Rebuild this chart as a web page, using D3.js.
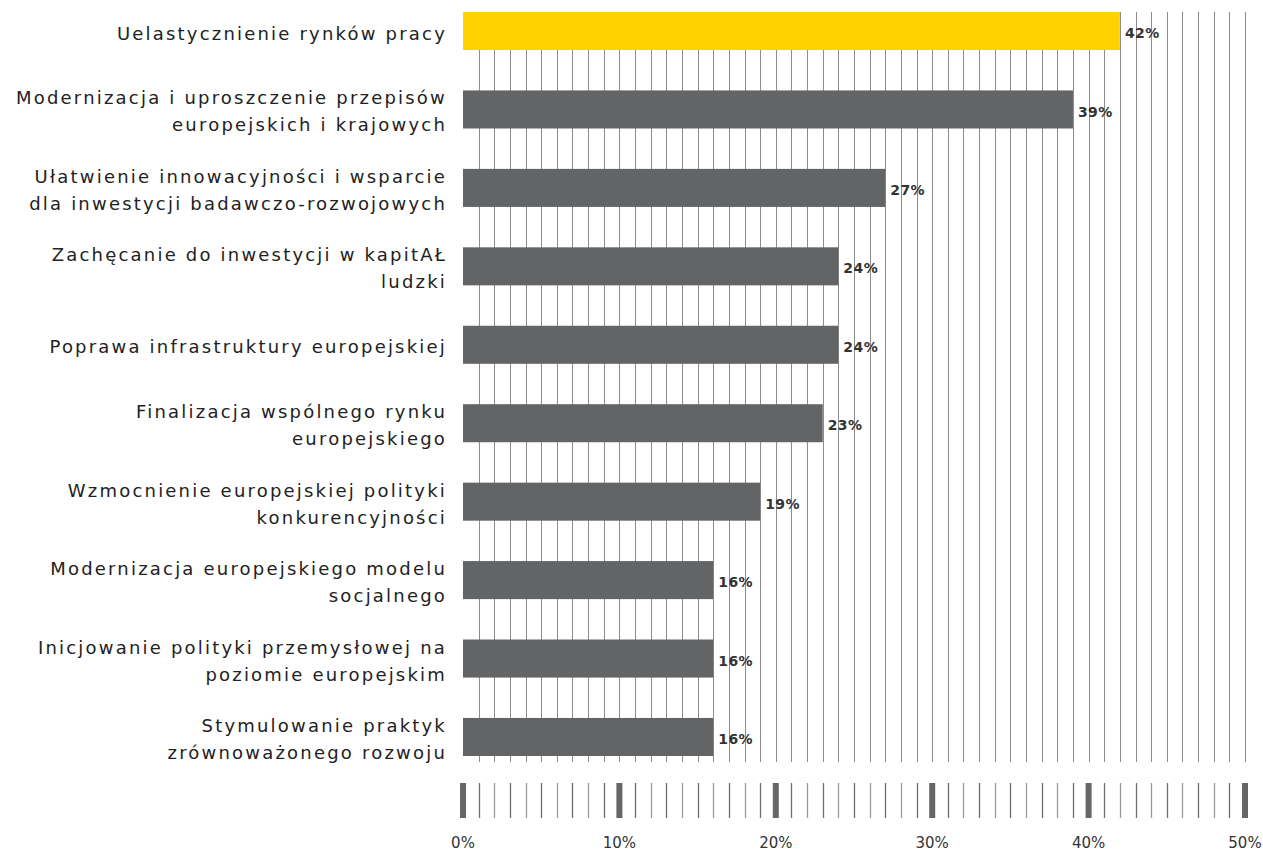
<!DOCTYPE html>
<html>
<head>
<meta charset="utf-8">
<script src="https://cdn.jsdelivr.net/npm/d3@7"></script>
<style>
  html, body { margin: 0; padding: 0; background: #fff; }
  svg { display: block; }
  .cat { font-family: "DejaVu Sans", sans-serif; font-size: 18px; fill: #222; letter-spacing: 2.2px; }
  .val { font-family: "DejaVu Sans", sans-serif; font-size: 14px; font-weight: bold; fill: #333; letter-spacing: 0.4px; }
  .tick-label { font-family: "DejaVu Sans", sans-serif; font-size: 15px; fill: #333; }
</style>
</head>
<body>
<svg id="chart" width="1263" height="852"></svg>
<script>
// Category labels (split into display lines) and their percentage shares
const categories = [
  ["Uelastycznienie rynków pracy"],
  ["Modernizacja i uproszczenie przepisów", "europejskich i krajowych"],
  ["Ułatwienie innowacyjności i wsparcie", "dla inwestycji badawczo-rozwojowych"],
  ["Zachęcanie do inwestycji w kapitAŁ", "ludzki"],
  ["Poprawa infrastruktury europejskiej"],
  ["Finalizacja wspólnego rynku", "europejskiego"],
  ["Wzmocnienie europejskiej polityki", "konkurencyjności"],
  ["Modernizacja europejskiego modelu", "socjalnego"],
  ["Inicjowanie polityki przemysłowej na", "poziomie europejskim"],
  ["Stymulowanie praktyk", "zrównoważonego rozwoju"]
];
const values = [42, 39, 27, 24, 24, 23, 19, 16, 16, 16];
const majorTicks = [0, 10, 20, 30, 40, 50];
const minorTicks = d3.range(1, 50).filter(v => v % 10 !== 0);
const gridLines = d3.range(1, 51);

const svg = d3.select("#chart");
const left = 463, right = 1245;
const plotTop = 12, plotBottom = 762;

const x = d3.scaleLinear().domain([0, 50]).range([left, right]);
const y = d3.scaleBand()
  .domain(d3.range(values.length))
  .range([12, 756])
  .paddingInner(0.515)
  .paddingOuter(0);

// vertical grid, one line per percent
svg.append("g")
  .selectAll("line")
  .data(gridLines)
  .join("line")
  .attr("x1", d => Math.round(x(d)) + 0.5)
  .attr("x2", d => Math.round(x(d)) + 0.5)
  .attr("y1", plotTop)
  .attr("y2", plotBottom)
  .attr("stroke", "#8c8c8c")
  .attr("stroke-width", 1);

// bars
svg.append("g")
  .selectAll("rect")
  .data(values)
  .join("rect")
  .attr("x", x(0))
  .attr("y", (d, i) => y(i))
  .attr("width", d => x(d) - x(0))
  .attr("height", y.bandwidth())
  .attr("fill", (d, i) => i === 0 ? "#ffd200" : "#636466");

// value labels
svg.append("g")
  .selectAll("text")
  .data(values)
  .join("text")
  .attr("class", "val")
  .attr("x", d => x(d) + 5)
  .attr("y", (d, i) => y(i) + y.bandwidth() / 2 + 2)
  .attr("dy", "0.36em")
  .text(d => d + "%");

// category labels, right-aligned against the plot
const lineGap = 27;
const catG = svg.append("g");
categories.forEach((lines, i) => {
  const cy = y(i) + y.bandwidth() / 2 + 2;
  const t = catG.append("text")
    .attr("class", "cat")
    .attr("text-anchor", "end");
  lines.forEach((ln, j) => {
    t.append("tspan")
      .attr("x", 447)
      .attr("y", cy + (j - (lines.length - 1) / 2) * lineGap)
      .attr("dy", "0.36em")
      .text(ln);
  });
});

// bottom scale strip
const stripTop = 783, stripBottom = 818;
const axisG = svg.append("g");
axisG.selectAll("line.minor")
  .data(minorTicks)
  .join("line")
  .attr("class", "minor")
  .attr("x1", d => Math.round(x(d)) + 0.5)
  .attr("x2", d => Math.round(x(d)) + 0.5)
  .attr("y1", stripTop)
  .attr("y2", stripBottom)
  .attr("stroke", (d) => d % 2 === 0 ? "#9a9a9a" : "#6f6f6f")
  .attr("stroke-width", 1.3);
axisG.selectAll("rect.major")
  .data(majorTicks)
  .join("rect")
  .attr("class", "major")
  .attr("x", d => x(d) - 3)
  .attr("y", stripTop)
  .attr("width", 6)
  .attr("height", stripBottom - stripTop)
  .attr("fill", "#666");

axisG.selectAll("text")
  .data(majorTicks)
  .join("text")
  .attr("class", "tick-label")
  .attr("x", d => x(d))
  .attr("y", 843)
  .attr("text-anchor", "middle")
  .attr("dy", "0.36em")
  .text(d => d + "%");
</script>
</body>
</html>
